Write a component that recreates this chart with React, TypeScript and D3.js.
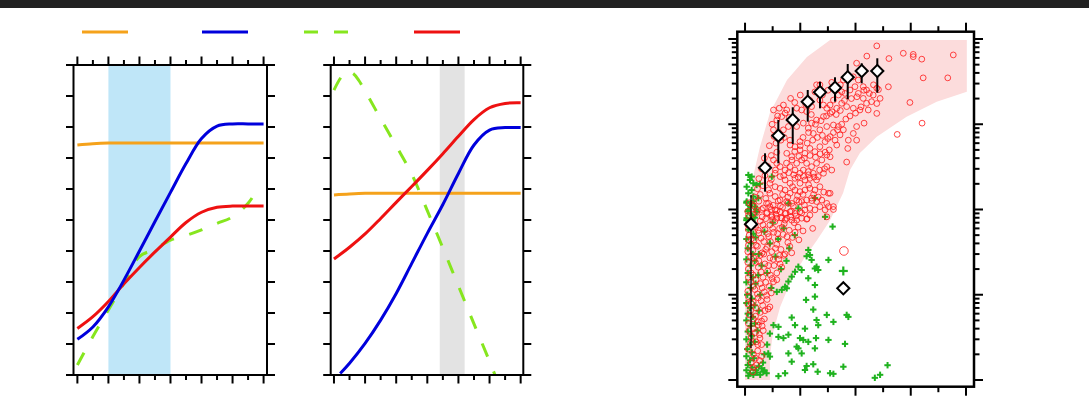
import React from "react";
import * as d3 from "d3";

const W = 1089, H = 397;

// ---------- Panel 1 ----------
const p1X = [0, 1, 2, 3, 4, 5, 6, 7, 8, 9, 10, 11, 12];
const p1Orange = [7.42, 7.46, 7.48, 7.48, 7.48, 7.48, 7.48, 7.48, 7.48, 7.48, 7.48, 7.48, 7.48];
const p1Blue = [1.15, 1.55, 2.2, 3.06, 4.0, 4.95, 5.89, 6.82, 7.63, 8.03, 8.1, 8.1, 8.1];
const p1Red = [1.5, 1.88, 2.37, 2.94, 3.47, 3.97, 4.45, 4.92, 5.25, 5.41, 5.45, 5.45, 5.45];
const p1GreenX = [0, 1, 2, 3, 4, 5, 6, 7, 8, 9, 10, 11, 11.7];
const p1Green = [0.32, 1.24, 2.1, 2.96, 3.82, 4.06, 4.35, 4.5, 4.68, 4.89, 5.1, 5.54, 6.07];
const p1Band = [2, 6];

// ---------- Panel 2 ----------
const p2X = [0, 1, 2, 3, 4, 5, 6, 7, 8, 9, 10, 11, 12];
const p2Orange = [5.81, 5.84, 5.86, 5.86, 5.86, 5.86, 5.86, 5.86, 5.86, 5.86, 5.86, 5.86, 5.86];
const p2Red = [3.74, 4.12, 4.55, 5.05, 5.57, 6.08, 6.6, 7.14, 7.7, 8.24, 8.62, 8.76, 8.78];
const p2BlueX = [0.4, 1, 2, 3, 4, 5, 6, 7, 8, 9, 10, 11, 12];
const p2Blue = [0.05, 0.38, 1.02, 1.77, 2.63, 3.6, 4.57, 5.5, 6.5, 7.42, 7.9, 7.98, 7.98];
const p2GreenX = [0, 0.45, 0.85, 1.25, 1.6, 2, 3, 4, 5, 6, 7, 8, 9, 10, 10.35];
const p2Green = [9.19, 9.6, 9.8, 9.72, 9.5, 9.16, 8.27, 7.39, 6.48, 5.3, 4.1, 2.87, 1.65, 0.44, 0];
const p2Band = [6.8, 8.4];

// ---------- Panel 3 ----------
const pinkBand: [number, number][] = [
  [0, 1], [0, 8.7], [0, 33.5], [0.11, 75], [0.29, 240], [0.54, 541], [0.9, 1355], [1.52, 3300],
  [2.24, 6150], [3.08, 9730], [8.03, 9730], [8.03, 2410], [6.94, 1840], [5.85, 1227], [4.77, 715],
  [4.16, 460], [3.8, 290], [3.55, 156], [3.08, 75], [2.61, 44], [2.1, 25.6], [1.63, 13.7],
  [1.27, 7.2], [1.01, 3.56], [0.9, 1.86], [0.9, 1],
];

const greenPts: [number, number][] = [
  [3.17, 63], [2.29, 33.5], [2.35, 29.3], [2.23, 28.3], [2.41, 25.6], [3.02, 25.6], [1.93, 21.3], [2.05, 19.5],
  [1.81, 18.6], [1.69, 16.3], [1.57, 14.3], [2.59, 21.3], [2.53, 20.3], [2.65, 19.5], [2.29, 15.6], [1.45, 12.4],
  [1.33, 11.4], [1.15, 10.8], [1.51, 11.9], [2.53, 13], [2.21, 8.7], [2.53, 9.5], [2.47, 6.7], [1.69, 5.4],
  [1.81, 4.4], [2.96, 5.8], [3.2, 4.8], [2.59, 5.05], [2.65, 4.4], [3.68, 5.8], [3.74, 5.5], [2.17, 4.0],
  [1.21, 4.2], [1.03, 4.4], [0.9, 3.5], [1.21, 3.2], [1.57, 3.4], [1.39, 3.1], [1.99, 3.1], [2.11, 2.95],
  [2.29, 2.8], [2.57, 3.1], [3.02, 2.95], [3.62, 2.65], [1.87, 2.46], [1.93, 2.35], [1.57, 2.05], [2.05, 2.05],
  [2.53, 2.35], [1.69, 1.64], [0.84, 2.05], [0.9, 1.88], [2.47, 1.53], [2.23, 1.46], [2.63, 1.25], [2.17, 1.31],
  [3.56, 1.43], [3.08, 1.2], [3.2, 1.18], [1.45, 1.2], [1.21, 1.11], [0.6, 1.37], [0.66, 1.25], [0.78, 1.2],
  [0.42, 1.22], [0.3, 1.15], [4.7, 1.06], [4.89, 1.15], [5.16, 1.49],
  [0.05, 120], [0.18, 110], [0.3, 125], [0.1, 95], [0.25, 85], [0.4, 100], [0.05, 75], [0.2, 68], [0.35, 80],
  [0.12, 58], [0.3, 52], [0.05, 45], [0.22, 40], [0.38, 47], [0.1, 35], [0.28, 30], [0.05, 26], [0.2, 22],
  [0.35, 25], [0.1, 18], [0.28, 16], [0.05, 14], [0.2, 12], [0.38, 13.5], [0.08, 10], [0.25, 9], [0.05, 8],
  [0.18, 7], [0.35, 7.5], [0.1, 6], [0.28, 5.5], [0.05, 5], [0.2, 4.3], [0.36, 4.6], [0.1, 3.7], [0.25, 3.3],
  [0.05, 3], [0.18, 2.6], [0.35, 2.8], [0.08, 2.3], [0.25, 2.1], [0.05, 1.9], [0.18, 1.7], [0.32, 1.8],
  [0.1, 1.5], [0.25, 1.4], [0.05, 1.3], [0.18, 1.2], [0.4, 1.3], [0.12, 1.12], [0.55, 1.15], [0.7, 1.3],
  [0.65, 1.6], [0.5, 1.45], [0.45, 3.8], [0.5, 6.5], [0.55, 10], [0.48, 17], [0.6, 22], [0.5, 30], [0.7, 2.0],
  [0.8, 2.6],
  [0.12, 254], [0.24, 243], [0.18, 222], [0.3, 203], [0.42, 194], [0.54, 200], [0.06, 185], [0.24, 169],
  [0.12, 155], [0.3, 142], [0.48, 136], [0.06, 124], [0.24, 118], [0.36, 108], [0.12, 99], [0.42, 94],
  [0.3, 82], [0.06, 79], [0.97, 243], [2.53, 136], [1.57, 118], [1.93, 103], [2.9, 82],
  [0.9, 40], [1.1, 28], [0.8, 18], [1.2, 45], [1.4, 60], [1.0, 70], [0.7, 55], [1.3, 20], [0.95, 12],
  [1.6, 35], [1.8, 50], [1.5, 25],
];

const redPts: [number, number][] = [
  // upper scattered
  [4.77, 8300], [4.41, 6300], [5.21, 5900], [5.73, 6800], [6.09, 6600], [6.09, 6200], [6.4, 5800], [7.54, 6500],
  [4.04, 5200], [6.45, 3500], [7.34, 3500], [5.19, 2750], [4.83, 2550], [5.97, 1800], [6.41, 1030], [5.51, 760],
  [4.77, 1750], [4.77, 1340], [4.31, 1030], [4.04, 650], [3.72, 520], [3.68, 360], [3.32, 570], [3.08, 415],
  [3.02, 155], [3.2, 100],
  [4.28, 2760], [4.4, 2520], [4.64, 2200], [4.77, 2650], [4.89, 2010], [3.14, 3100], [3.56, 3300], [3.92, 3600],
  [4.1, 3300], [2.71, 2900],
  // diagonal band
  [1.03, 1470], [1.24, 1540], [1.39, 1680], [1.51, 1470], [1.65, 2010], [1.33, 1230], [1.15, 1120], [1.03, 860],
  [1.39, 860], [1.57, 940], [1.87, 1540], [2.05, 1470], [2.23, 1410], [2.41, 1610], [2.59, 2900], [2.53, 2400],
  [2.71, 1920], [2.84, 1680], [2.96, 1540], [3.08, 1680], [3.2, 1920], [3.38, 2200], [3.5, 2400], [3.62, 2300],
  [3.8, 2520], [3.98, 2760], [4.1, 2300], [4.28, 2010], [4.4, 1760], [4.58, 1840], [4.46, 1470], [4.16, 1470],
  [3.92, 1540], [3.68, 1610], [3.5, 1760], [3.32, 1540], [3.08, 1340], [2.84, 1230], [2.59, 1120], [2.41, 1030],
  [2.29, 900], [2.47, 780], [2.71, 860], [2.96, 940], [3.2, 980], [3.38, 940], [3.56, 860], [3.74, 650],
  [3.92, 780], [4.04, 940], [3.44, 750], [3.26, 650], [3.08, 715], [2.9, 625], [2.71, 545], [2.53, 477],
  [2.35, 520], [2.17, 456], [1.99, 500], [1.81, 545], [1.63, 570], [1.51, 456], [1.69, 417], [1.87, 348],
  [2.05, 381], [2.23, 348], [2.41, 318], [2.59, 348], [2.78, 381], [2.96, 318], [3.14, 290], [2.96, 436],
  [2.84, 266], [2.65, 243], [2.47, 266], [2.29, 278], [2.11, 290], [1.99, 266], [1.81, 290], [1.63, 318],
  [1.45, 290], [1.27, 318], [1.15, 348], [1.03, 381], [1.09, 266], [1.27, 243], [1.45, 222], [1.63, 203],
  [1.81, 232], [1.99, 203], [2.17, 222], [2.35, 232], [2.59, 222], [2.71, 185], [2.53, 169], [2.35, 177],
  [2.17, 169], [1.99, 162], [1.81, 169], [1.63, 155], [1.45, 169], [1.27, 177], [1.09, 185], [0.9, 203],
  [0.9, 155], [1.09, 142], [1.27, 129], [1.51, 124], [1.69, 118], [1.87, 129], [2.05, 124], [2.23, 129],
  [2.41, 136], [2.59, 124], [2.78, 129], [2.96, 118], [3.08, 155], [2.9, 99], [2.71, 108], [2.53, 99],
  [2.35, 103], [2.17, 99], [1.99, 94], [1.81, 90], [1.63, 94], [1.45, 90], [1.27, 94], [1.09, 99],
  [0.9, 108], [0.78, 118], [0.78, 90], [0.97, 82], [1.15, 79], [1.33, 79], [1.51, 79], [1.69, 75],
  [1.87, 75], [2.05, 79], [2.23, 77], [2.96, 82], [1.63, 650], [1.99, 625], [1.87, 940], [2.11, 1030],
  [1.69, 1120],
  // extra fill in the diagonal band
  [0.35, 140], [0.55, 150], [0.75, 135], [0.45, 175], [0.65, 190], [0.85, 170], [0.5, 230], [0.72, 250],
  [0.95, 225], [0.6, 300], [0.82, 320], [1.1, 290], [0.7, 400], [0.95, 430], [1.15, 470], [0.88, 560],
  [1.12, 600], [1.3, 650], [1.05, 720], [1.25, 780], [1.42, 700], [0.98, 1000], [1.18, 1250], [1.45, 1350],
  [1.6, 1200], [1.36, 150], [1.55, 140], [1.72, 185], [1.9, 145], [2.1, 150], [2.3, 195], [2.48, 150],
  [2.65, 140], [2.85, 160], [1.4, 250], [1.58, 270], [1.76, 255], [1.92, 240], [2.12, 245], [2.3, 255],
  [2.5, 240], [2.7, 290], [2.88, 300], [1.5, 350], [1.7, 380], [1.95, 420], [2.15, 400], [2.35, 430],
  [2.55, 410], [2.72, 450], [2.9, 470], [3.05, 500], [1.8, 480], [2.0, 560], [2.25, 600], [2.45, 650],
  [2.62, 700], [2.8, 740], [3.0, 680], [3.2, 800], [3.35, 860], [3.5, 1000], [3.65, 1150], [3.8, 1250],
  [4.0, 1350], [4.2, 1600], [2.1, 700], [2.3, 800], [2.55, 1000], [2.75, 1100], [2.95, 1250], [3.15, 1400],
  [3.3, 1300], [3.45, 1450], [3.6, 1900], [3.85, 2000], [4.05, 2100], [4.3, 2500], [4.5, 2300], [4.65, 2900],
  [2.4, 1300], [2.2, 1700], [1.8, 1800], [2.0, 2200], [2.35, 1900], [2.8, 2200], [3.0, 2500], [3.25, 2700],
  [3.45, 2900],
  // lower dense cluster
  [0.15, 120], [0.32, 110], [0.5, 125], [0.66, 104], [0.85, 118], [1.02, 112], [1.2, 126], [1.36, 106],
  [1.55, 119], [1.75, 109], [1.95, 123], [2.15, 113], [2.42, 127], [3.02, 108], [3.2, 108],
  [0.1, 95], [0.28, 88], [0.45, 98], [0.62, 82], [0.8, 92], [0.97, 85], [1.15, 97], [1.3, 80], [1.48, 90],
  [1.68, 96], [1.85, 84], [2.05, 91], [2.25, 78], [2.35, 86], [1.0, 76],
  [0.2, 70], [0.38, 62], [0.55, 73], [0.72, 58], [0.9, 66], [1.08, 72], [1.25, 60], [1.42, 68], [1.6, 57],
  [1.78, 70], [1.92, 62], [2.1, 56], [2.45, 60], [0.12, 58],
  [0.15, 50], [0.33, 44], [0.5, 53], [0.68, 42], [0.86, 48], [1.04, 54], [1.2, 45], [1.38, 51], [1.55, 41],
  [1.72, 47], [1.81, 54], [1.95, 44],
  [0.12, 38], [0.28, 33], [0.45, 37], [0.62, 31], [0.8, 36], [0.97, 32], [1.15, 39], [1.3, 34], [1.45, 30],
  [1.62, 37], [1.69, 31],
  [0.2, 28], [0.38, 24], [0.55, 29], [0.72, 23], [0.9, 27], [1.05, 22], [1.22, 26], [1.4, 29], [1.27, 23],
  [0.12, 20], [0.3, 17], [0.48, 21], [0.65, 16], [0.82, 19], [0.98, 15.5], [1.15, 18], [1.33, 21], [1.15, 15],
  [0.2, 14], [0.36, 11.5], [0.55, 13.5], [0.7, 10.8], [0.88, 12.5], [1.03, 14.2], [0.95, 10.5],
  [0.12, 9.5], [0.3, 8.2], [0.48, 9.2], [0.64, 7.5], [0.8, 8.8], [0.9, 7.2], [0.84, 6.8],
  [0.2, 6.5], [0.38, 5.6], [0.55, 6.2], [0.7, 5.2], [0.6, 4.9],
  [0.12, 4.6], [0.3, 4.0], [0.48, 4.4], [0.66, 3.8],
  [0.22, 3.2], [0.4, 2.8], [0.54, 3.1], [0.6, 2.6],
  [0.12, 2.3], [0.3, 2.0], [0.46, 2.2], [0.6, 1.9],
  [0.22, 1.6], [0.3, 1.4], [0.42, 1.5],
  [0.25, 115], [0.42, 92], [0.6, 100], [0.75, 78], [0.95, 100], [1.12, 88], [1.28, 110], [1.45, 75],
  [1.65, 82], [0.3, 65], [0.48, 57], [0.65, 66], [0.82, 52], [1.0, 60], [1.18, 52], [1.35, 62], [1.52, 48],
  [0.22, 45], [0.4, 38], [0.58, 46], [0.75, 34], [0.92, 42], [1.1, 35], [1.25, 29], [0.32, 27], [0.5, 25],
  [0.68, 30], [0.85, 22], [1.02, 26], [0.22, 18], [0.4, 15], [0.58, 18.5], [0.75, 14], [0.92, 17],
  [0.3, 12.5], [0.45, 10.2], [0.62, 12], [0.78, 9.8], [0.22, 8], [0.4, 7], [0.58, 8.5], [0.72, 6.5],
  [0.3, 5.2], [0.48, 4.8], [0.62, 4.3], [0.38, 3.6], [0.52, 3.4], [0.2, 2.7], [0.46, 2.6], [0.38, 1.8],
  [0.52, 1.7], [0.28, 1.25], [0.15, 3.8], [0.15, 5.8], [0.1, 7.8], [0.1, 11], [0.12, 16], [0.1, 24],
  [0.1, 32], [0.12, 44], [0.1, 66], [0.12, 85],
];

// binned means with error bars
const diamondX = [0.217, 0.724, 1.205, 1.727, 2.27, 2.715, 3.258, 3.718, 4.224, 4.789];
const diamondY = [67, 309, 734, 1122, 1840, 2371, 2686, 3555, 4217, 4217];
const diamondLo = [2.37, 162, 348, 586, 1072, 1538, 1840, 1963, 3020, 2345];
const diamondHi = [148, 456, 1122, 1581, 2523, 3155, 3555, 5093, 5190, 5940];
const extraDiamond: [number, number] = [3.558, 11.9];
const bigCircle: [number, number] = [3.58, 32.6];
const bigPlus: [number, number] = [3.558, 19.0];

const C = {
  orange: "#f5a21b",
  blue: "#0000dc",
  green: "#86e61e",
  red: "#ee1111",
};

function CurvePanel({ x, band, bandColor, series }: any) {
  const y = d3.scaleLinear().domain([0, 10]).range([375, 65]);
  const x0 = x.range()[0], x1 = x.range()[1];
  const y0 = 375, y1 = 65;
  const ticksX = d3.range(0, 13);
  const ticksY = d3.range(0, 11);
  return (
    <g>
      <rect x={x(band[0])} y={y1} width={x(band[1]) - x(band[0])} height={y0 - y1} fill={bandColor} />
      {series.map((s: any, i: number) => {
        const line = d3.line<number>().x((_, k) => x(s.xs[k])).y((v) => y(v)).curve(d3.curveCatmullRom.alpha(0.5));
        return (
          <path key={i} d={line(s.ys) || ""} fill="none" stroke={s.color} strokeWidth={3}
            strokeDasharray={s.dash || undefined} strokeLinecap="butt" />
        );
      })}
      <rect x={x0} y={y1} width={x1 - x0} height={y0 - y1} fill="none" stroke="#000" strokeWidth={2} />
      {ticksX.map((t) => {
        const long = t % 2 === 0;
        const L = long ? 8.5 : 5;
        return (
          <g key={t}>
            <line x1={x(t)} x2={x(t)} y1={y1} y2={y1 - L} stroke="#000" strokeWidth={2} />
            <line x1={x(t)} x2={x(t)} y1={y0} y2={y0 + L} stroke="#000" strokeWidth={2} />
          </g>
        );
      })}
      {ticksY.map((t) => (
        <g key={t}>
          <line x1={x0} x2={x0 - 7.5} y1={y(t)} y2={y(t)} stroke="#000" strokeWidth={2} />
          <line x1={x1} x2={x1 + 8} y1={y(t)} y2={y(t)} stroke="#000" strokeWidth={2} />
        </g>
      ))}
    </g>
  );
}

function ScatterPanel() {
  const x = d3.scaleLinear().domain([-0.28, 8.29]).range([737.3, 974]);
  const y = d3.scaleLog().domain([0.834, 12178]).range([386.7, 31.7]);
  const [X0, X1] = x.range();
  const [Y0, Y1] = y.range();
  const bandLine = d3.line<[number, number]>().x((d) => x(d[0])).y((d) => y(d[1]));
  const minor: { v: number; major: boolean }[] = [];
  for (let e = 0; e <= 4; e++) {
    for (let m = 1; m <= 9; m++) {
      const v = m * Math.pow(10, e);
      if (v >= 0.834 && v <= 12178) minor.push({ v, major: m === 1 });
    }
  }
  const plus = (cx: number, cy: number, s: number, w: number, key: any, color = "#1fb21f") => (
    <g key={key} stroke={color} strokeWidth={w}>
      <line x1={cx - s} x2={cx + s} y1={cy} y2={cy} />
      <line x1={cx} x2={cx} y1={cy - s} y2={cy + s} />
    </g>
  );
  const diamond = (cx: number, cy: number, key: any) => (
    <rect key={key} x={cx - 4.3} y={cy - 4.3} width={8.6} height={8.6} fill="#fff" stroke="#000" strokeWidth={2}
      transform={`rotate(45 ${cx} ${cy})`} />
  );
  return (
    <g>
      <path d={(bandLine(pinkBand) || "") + "Z"} fill="#fcdcdc" stroke="none" />
      {greenPts.map((d, i) => plus(x(d[0]), y(d[1]), 3.2, 2, "g" + i))}
      <g fill="none" stroke="#ff1a1a" strokeWidth={1} strokeOpacity={0.8}>
        {redPts.map((d, i) => (
          <circle key={i} cx={x(d[0])} cy={y(d[1])} r={2.9} />
        ))}
        <circle cx={x(bigCircle[0])} cy={y(bigCircle[1])} r={4.3} />
      </g>
      {plus(x(bigPlus[0]), y(bigPlus[1]), 4.5, 2.2, "bp")}
      {diamondX.map((dx, i) => (
        <line key={"e" + i} x1={x(dx)} x2={x(dx)} y1={y(diamondLo[i])} y2={y(diamondHi[i])} stroke="#000"
          strokeWidth={i === 0 ? 1.3 : 2} />
      ))}
      {diamondX.map((dx, i) => diamond(x(dx), y(diamondY[i]), "d" + i))}
      {diamond(x(extraDiamond[0]), y(extraDiamond[1]), "dx")}
      <rect x={X0} y={Y1} width={X1 - X0} height={Y0 - Y1} fill="none" stroke="#000" strokeWidth={2.5} />
      {d3.range(0, 9).map((t) => {
        const L = t % 2 === 0 ? 9 : 5.5;
        return (
          <g key={t}>
            <line x1={x(t)} x2={x(t)} y1={Y1} y2={Y1 - L} stroke="#000" strokeWidth={2} />
            <line x1={x(t)} x2={x(t)} y1={Y0} y2={Y0 + L} stroke="#000" strokeWidth={2} />
          </g>
        );
      })}
      {minor.map((m, i) => {
        const L = m.major ? 9 : 5.5;
        return (
          <g key={"m" + i}>
            <line x1={X0} x2={X0 - L} y1={y(m.v)} y2={y(m.v)} stroke="#000" strokeWidth={2} />
            <line x1={X1} x2={X1 + L} y1={y(m.v)} y2={y(m.v)} stroke="#000" strokeWidth={2} />
          </g>
        );
      })}
    </g>
  );
}

const legendItems = [
  { color: C.orange, dash: "", x: 82 },
  { color: C.blue, dash: "", x: 202 },
  { color: C.green, dash: "14,16", x: 304 },
  { color: C.red, dash: "", x: 414 },
];

export default function App() {
  const xs1 = d3.scaleLinear().domain([-0.25, 12.22]).range([73.5, 267]);
  const xs2 = d3.scaleLinear().domain([-0.21, 12.17]).range([330.7, 523.3]);
  return (
    <svg width={W} height={H} style={{ position: "absolute", left: 0, top: 0, background: "#fff" }}>
      <rect x={0} y={0} width={W} height={8} fill="#222" />
      {legendItems.map((l, i) => (
        <line key={i} x1={l.x} x2={l.x + 46} y1={32} y2={32} stroke={l.color} strokeWidth={3}
          strokeDasharray={l.dash || undefined} />
      ))}
      <CurvePanel x={xs1} band={p1Band} bandColor="#bfe6f8" series={[
        { xs: p1X, ys: p1Orange, color: C.orange },
        { xs: p1GreenX, ys: p1Green, color: C.green, dash: "14,16" },
        { xs: p1X, ys: p1Red, color: C.red },
        { xs: p1X, ys: p1Blue, color: C.blue },
      ]} />
      <CurvePanel x={xs2} band={p2Band} bandColor="#e3e3e3" series={[
        { xs: p2X, ys: p2Orange, color: C.orange },
        { xs: p2GreenX, ys: p2Green, color: C.green, dash: "14,16" },
        { xs: p2X, ys: p2Red, color: C.red },
        { xs: p2BlueX, ys: p2Blue, color: C.blue },
      ]} />
      <ScatterPanel />
    </svg>
  );
}
